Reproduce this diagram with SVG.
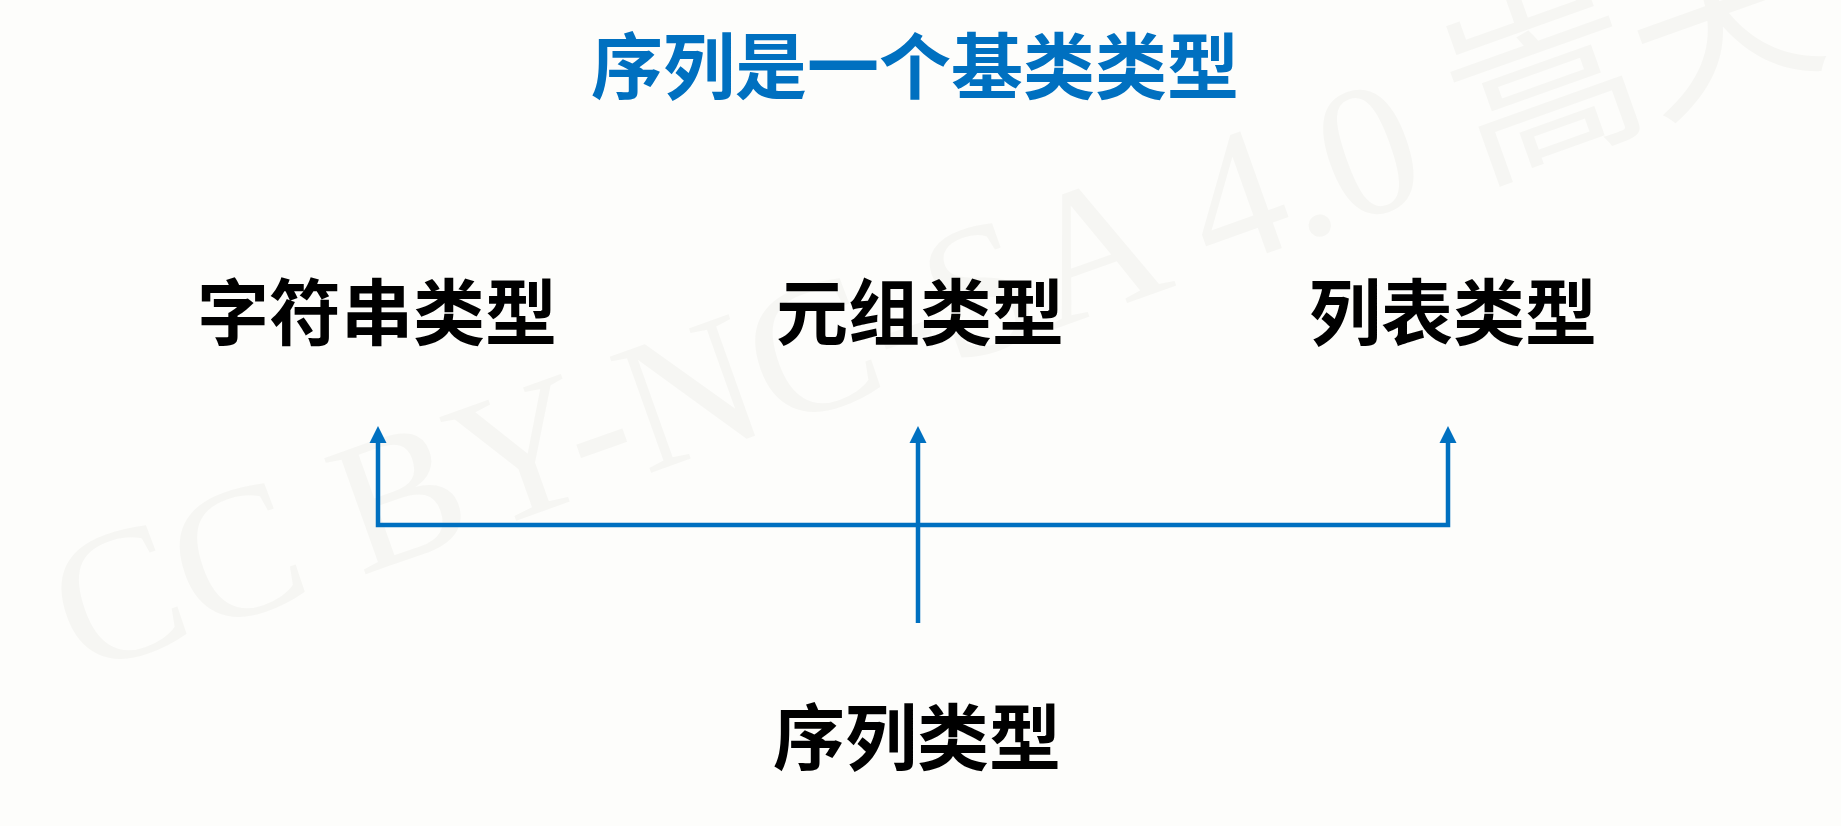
<svg xmlns="http://www.w3.org/2000/svg" width="1841" height="826" viewBox="0 0 1841 826">
<style>
.bg{fill:#FDFDFB}
.wm{font-family:"Liberation Serif","Noto Sans CJK SC",serif;font-size:188px;fill:#F6F6F3}
.t{font-family:"Noto Sans CJK SC","Noto Sans CJK TC",sans-serif;font-weight:bold;font-size:72px;text-anchor:middle}
.title{fill:#0070C0}
.lbl{fill:#000000}
.c{fill:none;stroke:#0070C0;stroke-width:4.5}
</style>
<rect class="bg" x="0" y="0" width="1841" height="826"/>
<g id="watermark">
<text class="wm" transform="translate(80,676) rotate(-19.6)">CC BY-NC-SA 4.0 嵩天</text>
</g>
<g id="title">
<text class="t title" x="915" y="93">序列是一个基类类型</text>
</g>
<g id="node-string">
<text class="t lbl" x="377" y="339">字符串类型</text>
</g>
<g id="node-tuple">
<text class="t lbl" x="920" y="339">元组类型</text>
</g>
<g id="node-list">
<text class="t lbl" x="1453" y="339">列表类型</text>
</g>
<g id="node-sequence">
<text class="t lbl" x="917" y="764">序列类型</text>
</g>
<g id="connectors">
<path class="c" d="M378,442 V525 H1448 V442" />
<path class="c" d="M918,623 V442" />
<path d="M369.5,443 L378,426 L386.5,443 Z" fill="#0070C0"/>
<path d="M909.5,443 L918,426 L926.5,443 Z" fill="#0070C0"/>
<path d="M1439.5,443 L1448,426 L1456.5,443 Z" fill="#0070C0"/>
</g>
</svg>
